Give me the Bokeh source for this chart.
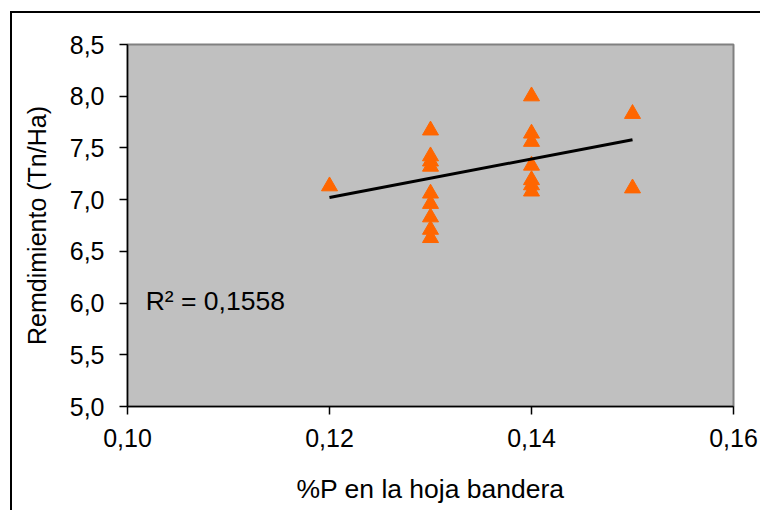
from bokeh.plotting import figure
from bokeh.models import Range1d, FixedTicker, Label
from bokeh.embed import file_html
from bokeh.resources import INLINE

# ---- data ----
p_leaf = [0.12,
          0.13, 0.13, 0.13, 0.13, 0.13, 0.13, 0.13, 0.13, 0.13,
          0.14, 0.14, 0.14, 0.14, 0.14, 0.14, 0.14,
          0.15, 0.15]
yield_tn = [7.13,
            7.67, 7.42, 7.37, 7.32, 7.06, 6.96, 6.83, 6.71, 6.63,
            8.00, 7.64, 7.56, 7.33, 7.19, 7.14, 7.08,
            7.83, 7.11]
trend_x = [0.12, 0.15]
trend_y = [7.02, 7.58]
r2_text = "R\u00b2 = 0,1558"

x_ticks = [0.10, 0.12, 0.14, 0.16]
x_tick_labels = ["0,10", "0,12", "0,14", "0,16"]
y_ticks = [5.0, 5.5, 6.0, 6.5, 7.0, 7.5, 8.0, 8.5]
y_tick_labels = ["5,0", "5,5", "6,0", "6,5", "7,0", "7,5", "8,0", "8,5"]

FONT = "Liberation Sans"

p = figure(width=750, height=499, output_backend="svg", toolbar_location=None,
           x_range=Range1d(0.10, 0.16), y_range=Range1d(5.0, 8.5),
           min_border_left=115, min_border_right=29, min_border_top=31, min_border_bottom=106)

p.styles = {"border-left": "2px solid #000000", "border-top": "2px solid #000000",
            "margin-left": "10px", "margin-top": "11px"}

p.background_fill_color = "#C0C0C0"
p.border_fill_color = "white"
p.outline_line_color = "#808080"
p.outline_line_width = 2
p.grid.visible = False

p.xaxis.ticker = FixedTicker(ticks=x_ticks)
p.xaxis.major_label_overrides = dict(zip(x_ticks, x_tick_labels))
p.yaxis.ticker = FixedTicker(ticks=y_ticks)
p.yaxis.major_label_overrides = dict(zip(y_ticks, y_tick_labels))

for ax in (p.xaxis, p.yaxis):
    ax.axis_line_color = "#000000"
    ax.axis_line_width = 1.5
    ax.major_tick_line_color = "#000000"
    ax.major_tick_line_width = 1.5
    ax.major_tick_out = 8
    ax.major_tick_in = 0
    ax.minor_tick_line_color = None
    ax.major_label_text_font = FONT
    ax.major_label_text_font_size = "25px"
    ax.major_label_text_color = "#000000"
    ax.axis_label_text_font = FONT
    ax.axis_label_text_font_size = "25px"
    ax.axis_label_text_font_style = "normal"
    ax.axis_label_text_color = "#000000"

p.xaxis.axis_label = "%P en la hoja bandera"
p.yaxis.axis_label = "Remdimiento (Tn/Ha)"
p.xaxis.axis_label_text_font_size = "26.5px"
p.xaxis.major_label_standoff = 14
p.yaxis.major_label_standoff = 15
p.xaxis.axis_label_standoff = 24
p.yaxis.axis_label_standoff = 16

p.scatter(p_leaf, yield_tn, marker="triangle", size=16,
          fill_color="#FF6600", line_color="#FF6600")
p.line(trend_x, trend_y, line_color="#000000", line_width=3)

p.add_layout(Label(x=0.1018, y=6.02, text=r2_text, text_font=FONT,
                   text_font_size="26.5px", text_color="#000000",
                   text_baseline="middle", text_align="left"))

open("out.html", "w").write(file_html(p, INLINE))
